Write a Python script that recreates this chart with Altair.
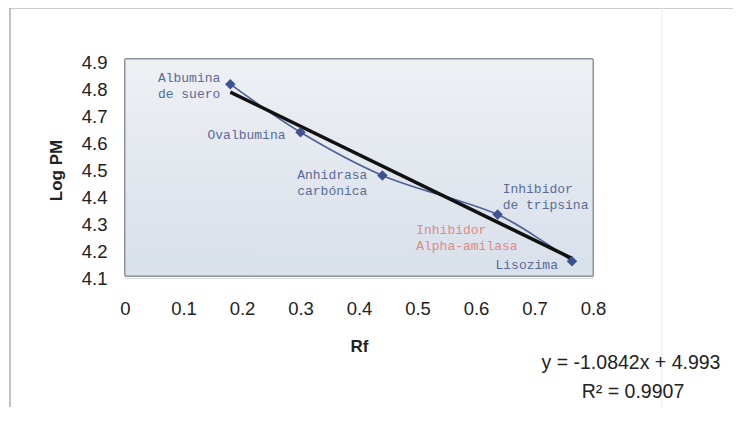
import altair as alt
import pandas as pd

# Data
proteins = ["Albumina de suero", "Ovalbumina", "Anhidrasa carbónica",
            "Inhibidor de tripsina", "Inhibidor Alpha-amilasa", "Lisozima"]
rf = [0.18, 0.30, 0.44, 0.637, 0.72, 0.764]
log_pm = [4.818, 4.640, 4.480, 4.335, 4.228, 4.162]
show_marker = [True, True, True, True, False, True]
label_lines = [["Albumina", "de suero"], ["Ovalbumina"], ["Anhidrasa", "carbónica"],
               ["Inhibidor", "de tripsina"], ["Inhibidor", "Alpha-amilasa"], ["Lisozima"]]
x_ticks = [0, 0.1, 0.2, 0.3, 0.4, 0.5, 0.6, 0.7, 0.8]
y_ticks = [4.1, 4.2, 4.3, 4.4, 4.5, 4.6, 4.7, 4.8, 4.9]
equation = "y = -1.0842x + 4.993"
r2_text = "R² = 0.9907"

df = pd.DataFrame({"protein": proteins, "Rf": rf, "LogPM": log_pm, "marker": show_marker})

W, H = 468, 216
FONT = "Liberation Sans"
MONO = "Liberation Mono"
TOP = 54

xs = alt.Scale(domain=[0, 0.8], nice=False)
ys = alt.Scale(domain=[4.1, 4.9], nice=False, zero=False)

xaxis = alt.Axis(values=x_ticks, format=".1~f", grid=False, domain=False, ticks=False,
                 labelOverlap=False, labelFlush=False, labelBound=False,
                 labelFont=FONT, labelFontSize=18.5, labelColor="#222", labelPadding=21,
                 title="Rf", titleFont=FONT, titleFontSize=17, titleFontWeight="bold",
                 titleColor="#222", titlePadding=21)
yaxis = alt.Axis(values=y_ticks, format=".1f", grid=False, domain=False, ticks=False,
                 labelOverlap=False, labelFlush=False, labelBound=False,
                 labelFont=FONT, labelFontSize=18.5, labelColor="#222", labelPadding=18,
                 title="Log PM", titleFont=FONT, titleFontSize=17, titleFontWeight="bold",
                 titleColor="#222", titlePadding=16)

X = alt.X("Rf:Q", scale=xs, axis=xaxis)
Y = alt.Y("LogPM:Q", scale=ys, axis=yaxis)

base = alt.Chart(df)

bg = base.mark_rect(
    color=alt.LinearGradient(gradient="linear", x1=0, y1=0, x2=0, y2=1,
                             stops=[alt.GradientStop(color="#eef0f4", offset=0),
                                    alt.GradientStop(color="#d8e0ea", offset=1)]),
    stroke="#8d929b", strokeWidth=1
).encode(x=alt.value(0), x2=alt.value(W), y=alt.value(-3), y2=alt.value(H - 2))

smooth = base.mark_line(interpolate="catmull-rom", color="#4d6198", strokeWidth=1.6).encode(x=X, y=Y)

trend = base.transform_regression("Rf", "LogPM", extent=[0.18, 0.764]).mark_line(
    color="#111111", strokeWidth=3.5
).encode(x=X, y=Y)

points = base.transform_filter("datum.marker").mark_point(
    shape="diamond", filled=True, size=110, color="#3e5291", opacity=1
).encode(x=X, y=Y)

# label styles (offsets in pixels from each point)
label_style = {
    "Albumina de suero": dict(align="right", dx=-10, dy=-12, color="#5a6b98"),
    "Ovalbumina": dict(align="right", dx=-15, dy=-3, color="#5a6b98"),
    "Anhidrasa carbónica": dict(align="right", dx=-15, dy=-6, color="#5a6b98"),
    "Inhibidor de tripsina": dict(align="left", dx=5, dy=-32, color="#5a6b98"),
    "Inhibidor Alpha-amilasa": dict(align="left", dx=-130, dy=-19, color="#e08a86"),
    "Lisozima": dict(align="right", dx=-14, dy=-2, color="#5a6b98"),
}

label_layers = []
for name, lines in zip(proteins, label_lines):
    st = label_style[name]
    label_layers.append(
        base.transform_filter(alt.datum.protein == name).mark_text(
            text=lines, font=MONO, fontSize=13, baseline="top", lineHeight=16,
            align=st["align"], dx=st["dx"], dy=st["dy"], color=st["color"]
        ).encode(x=X, y=Y)
    )

eq = alt.Chart(pd.DataFrame({"t": [equation]})).mark_text(
    font=FONT, fontSize=19.5, color="#222", align="center", baseline="middle"
).encode(text="t:N", x=alt.value(506), y=alt.value(363 - 8 - TOP))
r2 = alt.Chart(pd.DataFrame({"t": [r2_text]})).mark_text(
    font=FONT, fontSize=19.5, color="#222", align="center", baseline="middle"
).encode(text="t:N", x=alt.value(508), y=alt.value(392 - 8 - TOP))

frame_top = alt.Chart(pd.DataFrame({"a": [0]})).mark_rule(color="#9a9a9a", strokeWidth=1.2).encode(
    x=alt.value(-115), x2=alt.value(650), y=alt.value(-TOP))
frame_left = alt.Chart(pd.DataFrame({"a": [0]})).mark_rule(color="#9a9a9a", strokeWidth=1.2).encode(
    x=alt.value(-115), y=alt.value(-TOP), y2=alt.value(400))
faint = alt.Chart(pd.DataFrame({"a": [0]})).mark_rule(color="#ececec", strokeWidth=1).encode(
    x=alt.value(537), y=alt.value(-TOP), y2=alt.value(400))

chart = alt.layer(bg, frame_top, frame_left, faint, smooth, trend, points, *label_layers, eq, r2).properties(
    width=W, height=H,
    padding={"left": 117, "top": TOP, "right": 140, "bottom": 129},
    autosize="none",
).configure_view(stroke=None).configure(background="white").configure_axis(labelOverlap=False)

chart.save("out.html", embed_options={"renderer": "svg", "actions": False})
